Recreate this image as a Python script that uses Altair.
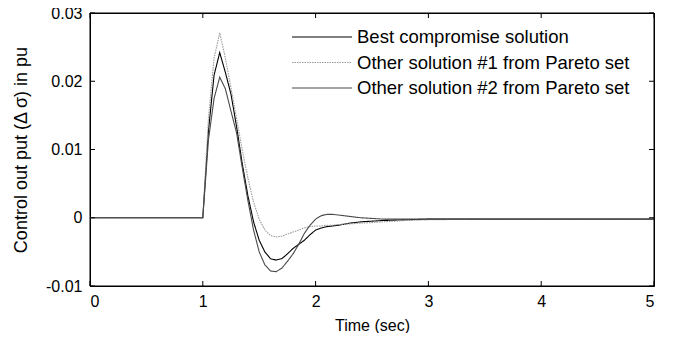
import altair as alt
import pandas as pd

time = [0, 1.0, 1.05, 1.1, 1.15, 1.2, 1.25, 1.3, 1.35, 1.4, 1.45, 1.5, 1.55, 1.6,
        1.65, 1.7, 1.75, 1.8, 1.85, 1.9, 1.95, 2.0, 2.05, 2.1, 2.15, 2.2, 2.3,
        2.4, 2.5, 2.6, 2.8, 3.0, 3.5, 4.0, 4.5, 5.0]

best = [0, 0, 0.0127, 0.0209, 0.0242, 0.0213, 0.0181, 0.0133, 0.0079, 0.0032,
        -0.0006, -0.0033, -0.0050, -0.0060, -0.0062, -0.0060, -0.0053, -0.0045,
        -0.0039, -0.0033, -0.0025, -0.0018, -0.0015, -0.0013, -0.0012, -0.0011,
        -0.0008, -0.0006, -0.0005, -0.0004, -0.0003, -0.0002, -0.0002, -0.0002,
        -0.0002, -0.0002]

other1 = [0, 0, 0.0146, 0.0234, 0.0271, 0.0234, 0.0190, 0.0145, 0.0099, 0.0058,
          0.0023, -0.0002, -0.0018, -0.0026, -0.0028, -0.0027, -0.0024, -0.0021,
          -0.0018, -0.0015, -0.0013, -0.0012, -0.0012, -0.0011, -0.0011, -0.0010,
          -0.0009, -0.0008, -0.0007, -0.0006, -0.0004, -0.0003, -0.0002, -0.0002,
          -0.0002, -0.0002]

other2 = [0, 0, 0.0114, 0.0175, 0.0206, 0.0189, 0.0156, 0.0124, 0.0073, 0.0025,
          -0.0018, -0.0050, -0.0069, -0.0078, -0.0079, -0.0074, -0.0064, -0.0053,
          -0.0039, -0.0023, -0.0011, -0.0002, 0.0003, 0.0005, 0.0005, 0.0004,
          0.0002, 0.0000, -0.0001, -0.0002, -0.0002, -0.0002, -0.0002, -0.0002,
          -0.0002, -0.0002]

names = ["Best compromise solution",
         "Other solution #1 from Pareto set",
         "Other solution #2 from Pareto set"]

x_ticks = [0, 1, 2, 3, 4, 5]
y_ticks = [-0.01, 0, 0.01, 0.02, 0.03]
x_domain = [0, 5]
y_domain = [-0.01, 0.03]

rows = []
for series, vals in zip(names, [best, other1, other2]):
    for t, v in zip(time, vals):
        rows.append({"t": t, "v": v, "series": series})
df = pd.DataFrame(rows)

W, H = 564, 273
TICK = 5
FONT = "Liberation Sans"
xscale = alt.Scale(domain=x_domain, nice=False, zero=False)
yscale = alt.Scale(domain=y_domain, nice=False, zero=False)

ylabel_expr = ("datum.value == 0 ? '0' : (datum.value < 0 ? '-' + format(-datum.value, '.2f')"
               " : format(datum.value, '.2f'))")

xaxis = alt.Axis(values=x_ticks, format="d", title="Time (sec)", tickSize=0,
                 domain=True, domainColor="black", domainWidth=1, grid=False,
                 labelPadding=7, titlePadding=8,
                 labelFontSize=16, titleFontSize=16, titleFontWeight="normal",
                 labelColor="black", titleColor="black", labelFont=FONT,
                 titleFont=FONT)
yaxis = alt.Axis(values=y_ticks, title="Control out put (\u0394 \u03c3) in pu",
                 tickSize=0, domain=True, domainColor="black", domainWidth=1, grid=False,
                 labelPadding=8, titlePadding=15, labelFontSize=16, titleFontSize=18,
                 titleFontWeight="normal", labelColor="black", titleColor="black",
                 labelFont=FONT, titleFont=FONT, labelExpr=ylabel_expr)

legend = alt.Legend(title=None, orient="none", legendX=221, legendY=13,
                    symbolType="M-3,0H3", symbolSize=400, symbolStrokeWidth=1.1,
                    labelFontSize=18.5, labelFont=FONT, labelColor="black",
                    labelOffset=24, rowPadding=4.5, padding=0, labelLimit=400)

lines = alt.Chart(df).mark_line(strokeWidth=1.1).encode(
    x=alt.X("t:Q", scale=xscale, axis=xaxis),
    y=alt.Y("v:Q", scale=yscale, axis=yaxis),
    color=alt.Color("series:N",
                    scale=alt.Scale(domain=names, range=["#000000", "#9a9a9a", "#4a4a4a"]),
                    legend=legend),
    strokeDash=alt.StrokeDash("series:N",
                              scale=alt.Scale(domain=names, range=[[1, 0], [1.5, 1], [1, 0]]),
                              legend=legend),
)

# frame around the plot area
frame_df = pd.DataFrame({"x0": [x_domain[0]], "x1": [x_domain[1]],
                         "y0": [y_domain[0]], "y1": [y_domain[1]]})
frame = alt.Chart(frame_df).mark_rect(fillOpacity=0, stroke="black", strokeWidth=1).encode(
    x=alt.X("x0:Q", scale=xscale, axis=xaxis), x2="x1:Q",
    y=alt.Y("y0:Q", scale=yscale, axis=yaxis), y2="y1:Q",
)

# inward ticks (MATLAB style)
xt = pd.DataFrame({"x": x_ticks})
yt = pd.DataFrame({"y": y_ticks})
xt_bottom = alt.Chart(xt).mark_rule(color="black", strokeWidth=1).encode(
    x=alt.X("x:Q", scale=xscale, axis=xaxis), y=alt.value(H), y2=alt.value(H - TICK))
xt_top = alt.Chart(xt).mark_rule(color="black", strokeWidth=1).encode(
    x=alt.X("x:Q", scale=xscale, axis=xaxis), y=alt.value(0), y2=alt.value(TICK))
yt_left = alt.Chart(yt).mark_rule(color="black", strokeWidth=1).encode(
    y=alt.Y("y:Q", scale=yscale, axis=yaxis), x=alt.value(0), x2=alt.value(TICK))
yt_right = alt.Chart(yt).mark_rule(color="black", strokeWidth=1).encode(
    y=alt.Y("y:Q", scale=yscale, axis=yaxis), x=alt.value(W), x2=alt.value(W - TICK))

chart = alt.layer(lines, frame, xt_bottom, xt_top, yt_left, yt_right).properties(
    width=W, height=H,
    autosize=alt.AutoSizeParams(type="none"),
    padding={"left": 82, "top": 5, "right": 10, "bottom": 47},
    background="white",
).configure_view(stroke="black", strokeWidth=1)

chart.save("out.html", embed_options={"renderer": "svg", "actions": False})
